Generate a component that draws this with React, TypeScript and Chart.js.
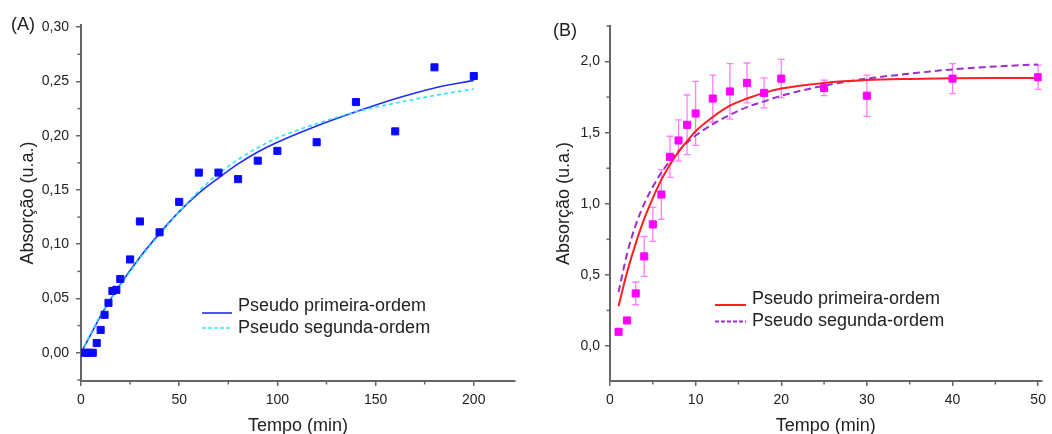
import React, { useEffect, useRef } from "react";
import { Chart, registerables } from "chart.js";

Chart.register(...registerables);

// ---------- Panel A data ----------
const timeA = [2, 4, 6, 8, 10, 12, 14, 16, 18, 20, 25, 30, 40, 50, 60, 70, 80, 90, 100, 120, 140, 160, 180, 200];
const absA = [0, 0, 0, 0.009, 0.021, 0.035, 0.046, 0.057, 0.058, 0.068, 0.086, 0.121, 0.111, 0.139, 0.166, 0.166, 0.16, 0.177, 0.186, 0.194, 0.231, 0.204, 0.263, 0.255];
const fitTimeA = [0, 5, 10, 15, 20, 30, 40, 50, 60, 70, 80, 90, 100, 120, 140, 160, 180, 200];
const firstOrderA = [0, 0.017, 0.034, 0.049, 0.063, 0.088, 0.11, 0.13, 0.147, 0.161, 0.174, 0.185, 0.194, 0.209, 0.222, 0.234, 0.244, 0.251];
const secondOrderA = [0, 0.018, 0.035, 0.049, 0.062, 0.087, 0.109, 0.13, 0.149, 0.165, 0.178, 0.189, 0.198, 0.211, 0.222, 0.23, 0.237, 0.243];

// ---------- Panel B data ----------
const timeB = [1, 2, 3, 4, 5, 6, 7, 8, 9, 10, 12, 14, 16, 18, 20, 25, 30, 40, 50];
const absB = [0.1, 0.18, 0.37, 0.63, 0.855, 1.065, 1.33, 1.445, 1.555, 1.635, 1.74, 1.79, 1.85, 1.78, 1.88, 1.815, 1.76, 1.88, 1.89];
const errB = [0.02, 0.02, 0.08, 0.14, 0.12, 0.175, 0.145, 0.145, 0.21, 0.225, 0.165, 0.195, 0.14, 0.105, 0.135, 0.055, 0.145, 0.105, 0.085];
const fitTimeB = [1, 2, 3, 4, 5, 6, 7, 8, 9, 10, 12, 14, 16, 18, 20, 25, 30, 35, 40, 45, 50];
const firstOrderB = [0.28, 0.52, 0.72, 0.895, 1.04, 1.17, 1.275, 1.365, 1.44, 1.51, 1.61, 1.69, 1.74, 1.78, 1.81, 1.85, 1.87, 1.878, 1.882, 1.884, 1.885];
const secondOrderB = [0.38, 0.65, 0.85, 1.0, 1.12, 1.22, 1.3, 1.37, 1.43, 1.48, 1.56, 1.625, 1.68, 1.72, 1.76, 1.83, 1.88, 1.915, 1.945, 1.965, 1.98];

const legendLabels = ["Pseudo primeira-ordem", "Pseudo segunda-ordem"];
const xTitle = "Tempo (min)";
const yTitle = "Absorção (u.a.)";

const FONT = '"Liberation Sans", Arial, Helvetica, sans-serif';
const AXIS = "#666666";
const TEXT = "#222222";

const zip = (xs: number[], ys: number[]) => xs.map((x, i) => ({ x, y: ys[i] }));

const minorTicks = {
  id: "minorTicks",
  afterDraw(chart: any, _a: any, opts: any) {
    const ctx = chart.ctx;
    ctx.save();
    ctx.strokeStyle = AXIS;
    ctx.lineWidth = 1.5;
    for (const id of ["x", "y"]) {
      const s = chart.scales[id];
      const step = opts[id];
      if (!step) continue;
      const major = s.options.ticks.stepSize;
      const start = Math.ceil(s.min / step - 1e-9);
      for (let i = start; i * step <= s.max + 1e-9; i++) {
        const v = i * step;
        const r = v / major;
        if (Math.abs(r - Math.round(r)) < 1e-6) continue;
        const p = s.getPixelForValue(v);
        ctx.beginPath();
        if (id === "x") {
          ctx.moveTo(p, s.top);
          ctx.lineTo(p, s.top + 3.5);
        } else {
          ctx.moveTo(s.right, p);
          ctx.lineTo(s.right - 3.5, p);
        }
        ctx.stroke();
      }
    }
    ctx.restore();
  },
};

const errorBars = {
  id: "errorBars",
  beforeDatasetsDraw(chart: any) {
    const ctx = chart.ctx;
    const xs = chart.scales.x;
    const ys = chart.scales.y;
    chart.data.datasets.forEach((ds: any) => {
      if (!ds.errors) return;
      ctx.save();
      ctx.strokeStyle = ds.errorColor;
      ctx.lineWidth = 1.3;
      ds.data.forEach((pt: any, i: number) => {
        const e = ds.errors[i];
        const x = xs.getPixelForValue(pt.x);
        const y1 = ys.getPixelForValue(pt.y - e);
        const y2 = ys.getPixelForValue(pt.y + e);
        ctx.beginPath();
        ctx.moveTo(x, y1);
        ctx.lineTo(x, y2);
        ctx.moveTo(x - 3.5, y1);
        ctx.lineTo(x + 3.5, y1);
        ctx.moveTo(x - 3.5, y2);
        ctx.lineTo(x + 3.5, y2);
        ctx.stroke();
      });
      ctx.restore();
    });
  },
};

const innerLegend = {
  id: "innerLegend",
  afterDraw(chart: any, _a: any, o: any) {
    if (!o || !o.rows) return;
    const ctx = chart.ctx;
    ctx.save();
    o.rows.forEach((row: any) => {
      const ds = chart.data.datasets[row.dataset];
      ctx.strokeStyle = ds.borderColor;
      ctx.lineWidth = ds.borderWidth;
      ctx.setLineDash(row.dash || []);
      ctx.beginPath();
      ctx.moveTo(o.lineX1, row.lineY);
      ctx.lineTo(o.lineX2, row.lineY);
      ctx.stroke();
      ctx.setLineDash([]);
      ctx.fillStyle = TEXT;
      ctx.font = `18px ${FONT}`;
      ctx.textBaseline = "alphabetic";
      ctx.textAlign = "left";
      ctx.fillText(ds.label, o.textX, row.textY);
    });
    if (o.panel) {
      ctx.font = `18px ${FONT}`;
      ctx.fillStyle = TEXT;
      ctx.fillText(o.panel.text, o.panel.x, o.panel.y);
    }
    ctx.restore();
  },
};

function makeConfig(p: any) {
  return {
    type: "scatter",
    data: { datasets: p.datasets },
    plugins: [minorTicks, errorBars, innerLegend],
    options: {
      animation: false,
      responsive: false,
      maintainAspectRatio: false,
      layout: { padding: { top: p.top, right: p.right, left: 0, bottom: 0 } },
      plugins: {
        legend: { display: false },
        tooltip: { enabled: false },
        minorTicks: { x: p.xMinor, y: p.yMinor },
        innerLegend: p.legend,
      },
      scales: {
        x: {
          type: "linear",
          min: p.xMin,
          max: p.xMax,
          afterFit: (s: any) => {
            s.height = 53;
          },
          ticks: {
            stepSize: p.xStep,
            includeBounds: false,
            color: TEXT,
            font: { size: 14, family: FONT },
            padding: 6,
            maxRotation: 0,
            callback: (v: number) => String(Math.round(v)),
          },
          grid: { drawOnChartArea: false, drawTicks: true, tickLength: 5, color: AXIS, lineWidth: 1.5 },
          border: { display: true, color: AXIS, width: 2 },
          title: {
            display: true,
            text: xTitle,
            color: TEXT,
            font: { size: 18, family: FONT },
            padding: { top: 0, bottom: -3 },
          },
        },
        y: {
          type: "linear",
          min: p.yMin,
          max: p.yMax,
          afterFit: (s: any) => {
            s.width = 81;
          },
          ticks: {
            stepSize: p.yStep,
            includeBounds: false,
            color: TEXT,
            font: { size: 14, family: FONT },
            padding: p.yPad,
            callback: (v: number) => v.toFixed(p.yDec).replace(".", ","),
          },
          grid: { drawOnChartArea: false, drawTicks: true, tickLength: 5, color: AXIS, lineWidth: 1.5 },
          border: { display: true, color: AXIS, width: 2 },
          title: {
            display: true,
            text: yTitle,
            color: TEXT,
            font: { size: 18, family: FONT },
            padding: { top: p.yTitlePad, bottom: 0 },
          },
        },
      },
    },
  };
}

const configA = () =>
  makeConfig({
    top: 25,
    right: 11,
    xMin: 0,
    xMax: 221,
    xStep: 50,
    xMinor: 25,
    yMin: -0.026,
    yMax: 0.302,
    yStep: 0.05,
    yMinor: 0.025,
    yDec: 2,
    yPad: 7,
    yTitlePad: 17,
    datasets: [
      {
        label: "data",
        data: zip(timeA, absA),
        pointStyle: "rect",
        pointRadius: 5,
        pointBackgroundColor: "#0a0aff",
        pointBorderColor: "#0a0aff",
        pointBorderWidth: 1,
        showLine: false,
        order: 0,
      },
      {
        label: legendLabels[0],
        data: zip(fitTimeA, firstOrderA),
        showLine: true,
        pointRadius: 0,
        borderColor: "#1f2df5",
        borderWidth: 1.6,
        cubicInterpolationMode: "monotone",
        order: 2,
      },
      {
        label: legendLabels[1],
        data: zip(fitTimeA, secondOrderA),
        showLine: true,
        pointRadius: 0,
        borderColor: "#2fe3ff",
        borderWidth: 1.6,
        borderDash: [4, 3],
        cubicInterpolationMode: "monotone",
        order: 1,
      },
    ],
    legend: {
      lineX1: 202,
      lineX2: 232,
      textX: 238,
      rows: [
        { dataset: 1, lineY: 313, textY: 311 },
        { dataset: 2, lineY: 328, textY: 333, dash: [4, 2] },
      ],
      panel: { text: "(A)", x: 11, y: 30 },
    },
  });

const configB = () =>
  makeConfig({
    top: 26,
    right: 7,
    xMin: 0,
    xMax: 50.4,
    xStep: 10,
    xMinor: 5,
    yMin: -0.246,
    yMax: 2.25,
    yStep: 0.5,
    yMinor: 0.25,
    yDec: 1,
    yPad: 5,
    yTitlePad: 24,
    datasets: [
      {
        label: "data",
        data: zip(timeB, absB),
        errors: errB,
        errorColor: "#ff80ff",
        pointStyle: "rect",
        pointRadius: 5,
        pointBackgroundColor: "#ff00ff",
        pointBorderColor: "#ff00ff",
        pointBorderWidth: 1,
        showLine: false,
        order: 0,
      },
      {
        label: legendLabels[0],
        data: zip(fitTimeB, firstOrderB),
        showLine: true,
        pointRadius: 0,
        borderColor: "#ff1f1f",
        borderWidth: 2,
        cubicInterpolationMode: "monotone",
        order: 1,
      },
      {
        label: legendLabels[1],
        data: zip(fitTimeB, secondOrderB),
        showLine: true,
        pointRadius: 0,
        borderColor: "#9a30cc",
        borderWidth: 2,
        borderDash: [7, 4],
        cubicInterpolationMode: "monotone",
        order: 2,
      },
    ],
    legend: {
      lineX1: 186,
      lineX2: 217,
      textX: 223,
      rows: [
        { dataset: 1, lineY: 305, textY: 303.5 },
        { dataset: 2, lineY: 321.5, textY: 326, dash: [4, 2] },
      ],
      panel: { text: "(B)", x: 24, y: 36 },
    },
  });

function Panel({ left, width, config }: { left: number; width: number; config: () => any }) {
  const ref = useRef<HTMLCanvasElement | null>(null);
  useEffect(() => {
    if (!ref.current) return;
    const chart = new Chart(ref.current, config());
    return () => chart.destroy();
  }, [config]);
  return (
    <canvas
      ref={ref}
      width={width}
      height={434}
      style={{ position: "absolute", left, top: 0, width, height: 434 }}
    />
  );
}

export default function App() {
  return (
    <div
      style={{
        position: "absolute",
        left: 0,
        top: 0,
        width: 1052,
        height: 434,
        background: "#ffffff",
        overflow: "hidden",
      }}
    >
      <Panel left={0} width={526} config={configA} />
      <Panel left={529} width={523} config={configB} />
    </div>
  );
}
